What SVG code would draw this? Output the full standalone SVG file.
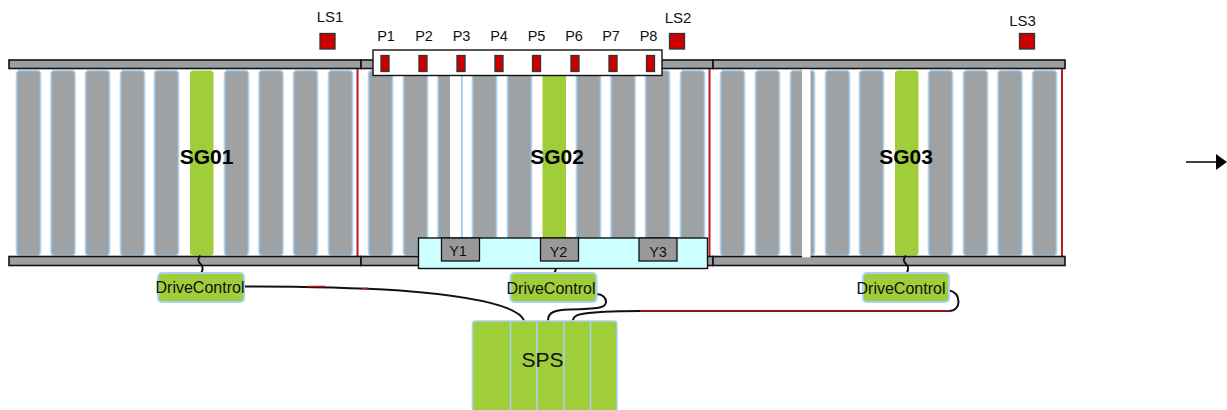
<svg xmlns="http://www.w3.org/2000/svg" width="1227" height="410" viewBox="0 0 1227 410">
<style>
text{font-family:"Liberation Sans",Arial,sans-serif;fill:#111;text-anchor:middle}
.t14{font-size:14.500px}.t15{font-size:15px}.t16{font-size:16px}.sg{font-size:21px;font-weight:bold;fill:#000}.sps{font-size:21px}
.slat{fill:#9fa2a5;stroke:#a9d2f2;stroke-width:1.600}
.green{fill:#a0cd3a;stroke:none}
.bar{fill:#9c9fa2;stroke:#111;stroke-width:1.600}
.redline{stroke:#c4161c;stroke-width:2;fill:none}
.sensor{fill:#cc0000;stroke:#333;stroke-width:1.300}
.y{fill:#999;stroke:#111;stroke-width:1.300}
.box{stroke:#111;stroke-width:1.400}
.dc{fill:#a0cd3a;stroke:#a9d2f2;stroke-width:2}
.wire{fill:none;stroke:#111;stroke-width:2}
.wave{fill:none;stroke:#111;stroke-width:2}
.wred{fill:none;stroke:#b01a1e;stroke-width:1.500}
</style>
<g id="conveyor-SG01">
<rect class="slat" x="16.500" y="70.500" width="24" height="185" rx="3.500"/>
<rect class="slat" x="51" y="70.500" width="24" height="185" rx="3.500"/>
<rect class="slat" x="85.500" y="70.500" width="24" height="185" rx="3.500"/>
<rect class="slat" x="120.500" y="70.500" width="24" height="185" rx="3.500"/>
<rect class="slat" x="154.500" y="70.500" width="24" height="185" rx="3.500"/>
<rect class="green" x="190" y="70.500" width="23.500" height="185" rx="3.500"/>
<rect class="slat" x="224.500" y="70.500" width="24" height="185" rx="3.500"/>
<rect class="slat" x="259" y="70.500" width="24" height="185" rx="3.500"/>
<rect class="slat" x="293.500" y="70.500" width="24" height="185" rx="3.500"/>
<rect class="slat" x="328.500" y="70.500" width="24" height="185" rx="3.500"/>
<line class="redline" x1="357.500" y1="68" x2="357.500" y2="256"/>
<rect class="bar" x="9" y="60" width="352" height="8.500"/>
<rect class="bar" x="9" y="256.500" width="352" height="9"/>
<text class="sg" x="206.500" y="164">SG01</text>
</g>
<g id="conveyor-SG02">
<rect class="slat" x="368.500" y="70.500" width="24" height="185" rx="3.500"/>
<rect class="slat" x="403.500" y="70.500" width="24" height="185" rx="3.500"/>
<rect class="slat" x="438" y="70.500" width="24" height="185" rx="3.500"/>
<rect x="450" y="69.500" width="11" height="187" fill="#fff"/>
<rect class="slat" x="472.500" y="70.500" width="24" height="185" rx="3.500"/>
<rect class="slat" x="507.500" y="70.500" width="24" height="185" rx="3.500"/>
<rect class="green" x="542.500" y="70.500" width="23.500" height="185" rx="3.500"/>
<rect class="slat" x="576.500" y="70.500" width="24" height="185" rx="3.500"/>
<rect class="slat" x="611" y="70.500" width="24" height="185" rx="3.500"/>
<rect class="slat" x="645.500" y="70.500" width="24" height="185" rx="3.500"/>
<rect class="slat" x="680.500" y="70.500" width="24" height="185" rx="3.500"/>
<line class="redline" x1="709.500" y1="68" x2="709.500" y2="256"/>
<rect class="bar" x="361" y="60" width="352" height="8.500"/>
<rect class="bar" x="361" y="256.500" width="352" height="9"/>
<text class="sg" x="557" y="164">SG02</text>
</g>
<g id="conveyor-SG03">
<rect class="slat" x="720.500" y="70.500" width="24" height="185" rx="3.500"/>
<rect class="slat" x="755.500" y="70.500" width="24" height="185" rx="3.500"/>
<rect class="slat" x="790.500" y="70.500" width="24" height="185" rx="3.500"/>
<rect class="slat" x="825.500" y="70.500" width="24" height="185" rx="3.500"/>
<rect class="slat" x="859.500" y="70.500" width="24" height="185" rx="3.500"/>
<rect class="green" x="895" y="70.500" width="23.500" height="185" rx="3.500"/>
<rect class="slat" x="928.500" y="70.500" width="24" height="185" rx="3.500"/>
<rect class="slat" x="963.500" y="70.500" width="24" height="185" rx="3.500"/>
<rect class="slat" x="998" y="70.500" width="24" height="185" rx="3.500"/>
<rect class="slat" x="1032.500" y="70.500" width="24" height="185" rx="3.500"/>
<line class="redline" x1="1062" y1="68" x2="1062" y2="256"/>
<rect class="bar" x="713" y="60" width="352" height="8.500"/>
<rect class="bar" x="713" y="256.500" width="352" height="9"/>
<rect x="802" y="69.500" width="8.500" height="188" fill="#fff"/>
<text class="sg" x="906" y="164">SG03</text>
</g>
<g id="light-sensors">
<rect class="sensor" x="320" y="33.500" width="15" height="15.500"/>
<text class="t15" x="330" y="22">LS1</text>
<rect class="sensor" x="669.500" y="33.500" width="15" height="15.500"/>
<text class="t15" x="678" y="23">LS2</text>
<rect class="sensor" x="1019.500" y="33.500" width="15" height="15.500"/>
<text class="t15" x="1022.500" y="26">LS3</text>
</g>
<g id="position-sensors">
<rect class="box" x="373" y="50" width="289" height="25.500" fill="#fff"/>
<rect class="sensor" x="381" y="55.500" width="8" height="16"/>
<rect class="sensor" x="419" y="55.500" width="8" height="16"/>
<rect class="sensor" x="457" y="55.500" width="8" height="16"/>
<rect class="sensor" x="495" y="55.500" width="8" height="16"/>
<rect class="sensor" x="532.500" y="55.500" width="8" height="16"/>
<rect class="sensor" x="571" y="55.500" width="8" height="16"/>
<rect class="sensor" x="609" y="55.500" width="8" height="16"/>
<rect class="sensor" x="646.500" y="55.500" width="8" height="16"/>
<text class="t14" x="386" y="41">P1</text>
<text class="t14" x="424" y="41">P2</text>
<text class="t14" x="461.500" y="41">P3</text>
<text class="t14" x="499" y="41">P4</text>
<text class="t14" x="536.500" y="41">P5</text>
<text class="t14" x="574" y="41">P6</text>
<text class="t14" x="611" y="41">P7</text>
<text class="t14" x="648.500" y="41">P8</text>
</g>
<g id="valves">
<rect class="box" x="418.500" y="238" width="289" height="30.500" fill="#ccffff"/>
<rect class="y" x="441.500" y="238" width="38" height="23"/>
<text class="t14" x="458" y="256">Y1</text>
<rect class="y" x="540.500" y="238" width="38" height="23"/>
<text class="t14" x="558.500" y="257">Y2</text>
<rect class="y" x="639" y="238" width="38" height="23"/>
<text class="t14" x="658" y="257">Y3</text>
</g>
<g id="connectors">
<path class="wave" d="M200.500 255.500c-3 3-3 6 .5 9c3 3 1.500 6-.5 10"/>
<path class="wave" d="M556 268.500c-.5 3-1.500 5-3 7"/>
<path class="wave" d="M906 255.500c-3 3-3 6 .5 9c3 3 1.500 6-.5 10"/>
<path class="wire" d="M244 286.500C300 286.500 350 287.500 400 290.500C470 296 518 305 524 320.500"/>
<path class="wred" d="M307 286.500H325M362 288.500H368"/>
<path class="wire" d="M597 294C604 295 606 298 606 302C606 308 598 309 570 309.500C555 310 548 312 548 320.500"/>
<path class="wire" d="M949.500 290.500C956 292 958.500 297 958.500 302C958.500 307 955 311 949 311H640C610 311 590 312.500 582 314C576 315 573 317 573 320.500"/>
<path class="wred" d="M640 311H950"/>
</g>
<g id="drive-1">
<rect class="dc" x="158" y="273" width="86" height="29" rx="4"/>
<text class="t16" x="200" y="293">DriveControl</text>
</g>
<g id="drive-2">
<rect class="dc" x="510.500" y="273" width="86" height="29" rx="4"/>
<text class="t16" x="551" y="294">DriveControl</text>
</g>
<g id="drive-3">
<rect class="dc" x="863" y="273" width="86" height="29" rx="4"/>
<text class="t16" x="901" y="294">DriveControl</text>
</g>
<g id="sps">
<path d="M472.500 411V324q0-3 3-3H614q3 0 3 3V411Z" fill="#a0cd3a" stroke="#a9d2f2" stroke-width="1.600"/>
<path d="M510.500 321V411M537 321V411M564 321V411M590.500 321V411" fill="none" stroke="#a9d2f2" stroke-width="1.600"/>
<text class="sps" x="542.500" y="366.500">SPS</text>
</g>
<g id="direction-arrow">
<line x1="1186" y1="162" x2="1217" y2="162" stroke="#111" stroke-width="1.600"/>
<polygon points="1216,154 1227,162 1216,170" fill="#000"/>
</g>
</svg>
